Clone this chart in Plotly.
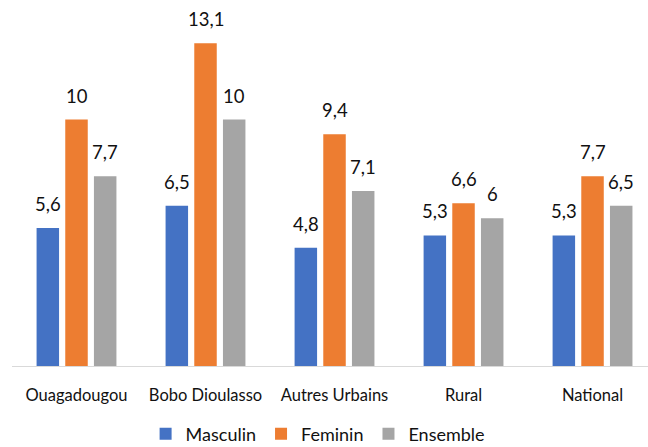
import plotly.graph_objects as go

categories = ["Ouagadougou", "Bobo Dioulasso", "Autres Urbains", "Rural", "National"]
series_names = ["Masculin", "Feminin", "Ensemble"]
masculin = [5.6, 6.5, 4.8, 5.3, 5.3]
feminin = [10, 13.1, 9.4, 6.6, 7.7]
ensemble = [7.7, 10, 7.1, 6, 6.5]
colors = ["#4472C4", "#ED7D31", "#A5A5A5"]

W, H = 648, 447
ML, MR, MT, MB = 12, 0, 21, 81
xr = [-0.5, 4.43]
bargap = 0.333
bargroupgap = 0.216
catpx = (W - ML - MR) / (xr[1] - xr[0])
slotpx = (1 - bargap) * catpx / 3

FONT = "Lato"
fig = go.Figure()
all_series = [masculin, feminin, ensemble]
for name, vals, col in zip(series_names, all_series, colors):
    fig.add_trace(go.Bar(x=categories, y=vals, name=name, marker_color=col,
                         marker_line_width=0))

annotations = []
for i, vals in enumerate(all_series):
    for c, v in zip(categories, vals):
        annotations.append(dict(
            x=c, y=v, xref="x", yref="y", text=f"{v:g}".replace(".", ","),
            showarrow=False, yanchor="bottom", xanchor="center",
            xshift=(i - 1) * slotpx, yshift=11,
            font=dict(family=FONT, size=18.5, color="#111111")))

fig.update_layout(
    width=W, height=H,
    margin=dict(l=ML, r=MR, t=MT, b=MB, autoexpand=False),
    paper_bgcolor="white", plot_bgcolor="white",
    barmode="group", bargap=bargap, bargroupgap=bargroupgap,
    annotations=annotations,
    showlegend=True,
    legend=dict(orientation="h", x=0.4805, xanchor="center",
                yref="container", y=(H - 434) / H, yanchor="middle",
                font=dict(family=FONT, size=18, color="#111111"),
                traceorder="normal"),
    font=dict(family=FONT, color="#111111"),
)
fig.update_xaxes(range=xr, showline=True, linecolor="#D9D9D9", linewidth=1,
                 ticks="outside", ticklen=14, tickcolor="rgba(0,0,0,0)",
                 tickfont=dict(family=FONT, size=16.5, color="#111111"),
                 showgrid=False, zeroline=False)
fig.update_yaxes(range=[0, 14], visible=False, showgrid=False, zeroline=False)

fig.write_html("out.html")
